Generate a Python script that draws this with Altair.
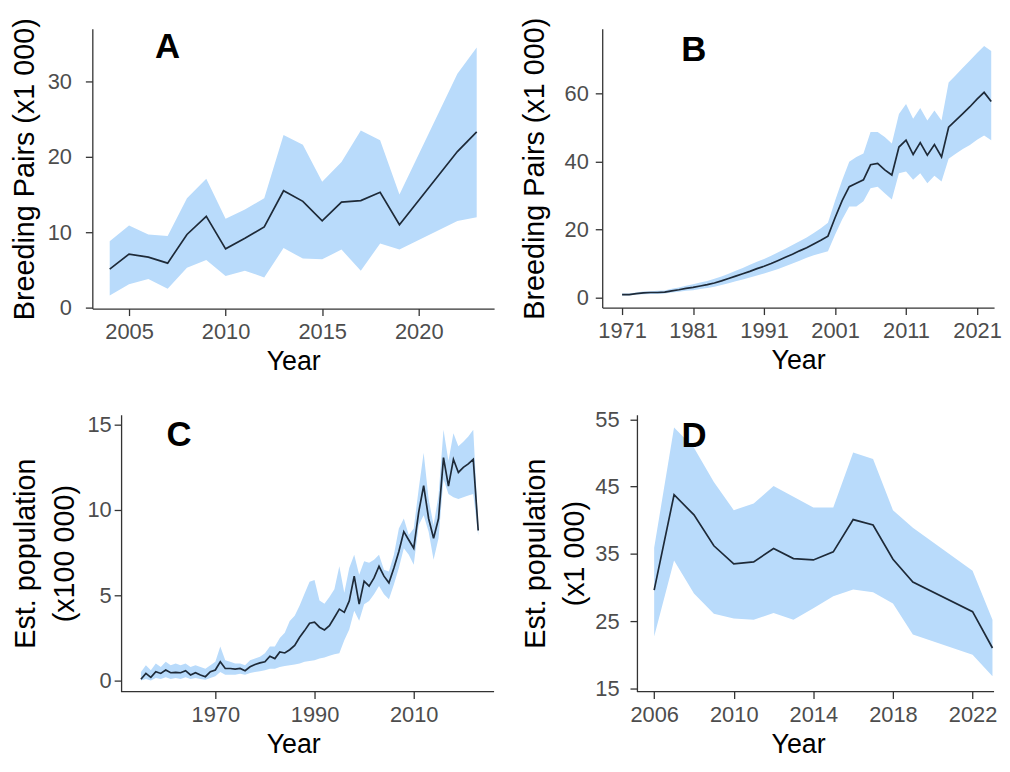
import altair as alt
import pandas as pd

# ---------------- Panel A ----------------
years_a = [2004, 2005, 2006, 2007, 2008, 2009, 2010, 2011, 2012, 2013, 2014,
           2015, 2016, 2017, 2018, 2019, 2022, 2023]
mean_a = [5.1, 7.1, 6.7, 5.9, 9.7, 12.1, 7.8, 9.2, 10.7, 15.5, 14.1,
          11.5, 14.0, 14.2, 15.3, 11.0, 20.7, 23.3]
upper_a = [8.8, 10.9, 9.7, 9.5, 14.5, 17.1, 11.8, 13.0, 14.5, 22.9, 21.6,
           16.7, 19.3, 23.5, 22.2, 15.0, 31.0, 34.5]
lower_a = [1.6, 3.1, 3.8, 2.5, 5.3, 6.3, 4.2, 4.9, 4.0, 7.9, 6.5,
           6.4, 7.7, 4.9, 8.5, 7.7, 11.5, 12.0]

# ---------------- Panel B ----------------
years_b = list(range(1971, 2024))
mean_b = [1.0, 1.0, 1.3, 1.5, 1.6, 1.6, 1.7, 2.1, 2.4, 2.8,
          3.1, 3.5, 3.9, 4.4, 5.0, 5.7, 6.4, 7.1, 7.8, 8.6,
          9.3, 10.1, 11.0, 11.9, 12.8, 13.8, 14.7, 15.8, 16.9, 18.1,
          23.5, 28.5, 32.6, 33.6, 34.6, 39.0, 39.4, 37.5, 36.0, 44.2,
          46.2, 42.0, 45.5, 41.8, 44.9, 41.3, 50.0, 52.0, 54.0, 56.0,
          58.2, 60.2, 57.5]
upper_b = [1.3, 1.3, 1.6, 1.9, 2.0, 2.1, 2.2, 2.7, 3.1, 3.6,
           4.0, 4.5, 5.0, 5.6, 6.3, 7.1, 8.0, 8.8, 9.7, 10.6,
           11.4, 12.4, 13.4, 14.4, 15.5, 16.6, 17.7, 19.0, 20.4, 22.0,
           28.5, 34.5, 39.9, 41.3, 42.3, 48.6, 48.6, 47.1, 45.2, 53.9,
           56.8, 52.5, 55.6, 52.0, 54.9, 52.0, 63.1, 65.2, 67.4, 69.5,
           71.7, 73.8, 72.3]
lower_b = [0.7, 0.7, 1.0, 1.1, 1.2, 1.2, 1.3, 1.6, 1.8, 2.1,
           2.3, 2.6, 2.9, 3.3, 3.8, 4.3, 4.9, 5.4, 6.0, 6.6,
           7.2, 7.8, 8.5, 9.3, 10.1, 10.9, 11.8, 12.5, 13.1, 13.7,
           18.5, 23.0, 26.8, 26.8, 28.3, 32.1, 32.6, 30.7, 28.8, 36.5,
           37.0, 34.6, 36.5, 33.6, 35.8, 34.1, 40.8, 42.2, 43.6, 44.8,
           46.3, 47.6, 46.2]

# ---------------- Panel C ----------------
years_c = list(range(1955, 2024))
mean_c = [0.08, 0.42, 0.19, 0.52, 0.42, 0.62, 0.46, 0.48, 0.46, 0.58,
          0.33, 0.46, 0.33, 0.23, 0.52, 0.62, 1.10, 0.71, 0.71, 0.67,
          0.71, 0.58, 0.81, 0.94, 1.04, 1.10, 1.43, 1.29, 1.68, 1.62,
          1.81, 2.06, 2.54, 2.93, 3.36, 3.42, 3.13, 2.97, 3.22, 3.70,
          4.19, 4.00, 4.67, 6.12, 4.48, 5.83, 5.54, 6.02, 6.70, 6.12,
          5.73, 6.60, 7.57, 8.73, 8.24, 7.76, 9.88, 11.42, 9.50, 8.34,
          9.50, 13.07, 11.40, 12.97, 12.20, 12.50, 12.70, 12.97, 8.80]
upper_c = [0.5, 0.9, 0.6, 1.0, 0.8, 1.1, 0.9, 1.0, 0.9, 1.0,
           0.8, 0.9, 0.8, 0.7, 0.9, 1.1, 2.0, 1.2, 1.1, 1.0,
           1.0, 0.9, 1.2, 1.3, 1.4, 1.6, 2.0, 2.0, 2.5, 2.8,
           3.5, 3.8, 4.4, 5.1, 5.8, 5.9, 4.7, 4.5, 4.9, 5.35,
           6.7, 5.15, 6.6, 7.37, 6.21, 6.99, 6.9, 7.08, 7.37, 6.5,
           6.4, 7.37, 8.92, 9.5, 8.53, 8.92, 11.23, 13.36, 10.65, 9.11,
           10.85, 14.7, 12.87, 14.5, 13.74, 14.0, 14.3, 14.7, 9.1]
lower_c = [0.0, 0.1, 0.0, 0.15, 0.1, 0.2, 0.1, 0.15, 0.1, 0.2,
           0.1, 0.15, 0.1, 0.05, 0.15, 0.25, 0.5, 0.35, 0.35, 0.35,
           0.4, 0.35, 0.45, 0.5, 0.55, 0.6, 0.7, 0.7, 0.8, 0.85,
           0.9, 0.95, 1.0, 1.1, 1.15, 1.2, 1.3, 1.35, 1.45, 1.55,
           1.6, 2.36, 3.0, 4.09, 3.51, 4.48, 4.67, 5.06, 5.54, 5.06,
           4.77, 5.63, 6.6, 7.76, 7.37, 6.79, 9.11, 9.69, 8.73, 7.08,
           8.34, 11.8, 10.94, 10.75, 10.65, 10.75, 10.85, 10.94, 8.5]

# ---------------- Panel D ----------------
years_d = [2006, 2007, 2008, 2009, 2010, 2011, 2012, 2013, 2014, 2015,
           2016, 2017, 2018, 2019, 2022, 2023]
mean_d = [29.6, 43.8, 40.8, 36.2, 33.5, 33.8, 35.8, 34.3, 34.1, 35.3,
          40.1, 39.3, 34.2, 30.8, 26.4, 21.0]
upper_d = [35.9, 53.8, 50.8, 45.7, 41.5, 42.5, 45.1, 43.5, 41.9, 41.9,
           50.1, 49.1, 41.5, 38.9, 32.5, 25.2]
lower_d = [22.7, 34.0, 29.1, 26.1, 25.4, 25.2, 26.2, 25.2, 26.9, 28.7,
           29.7, 29.3, 27.6, 23.0, 20.0, 16.8]

# axis ticks and labels
xticks_a = [2005, 2010, 2015, 2020]
yticks_a = [0, 10, 20, 30]
xticks_b = [1971, 1981, 1991, 2001, 2011, 2021]
yticks_b = [0, 20, 40, 60]
xticks_c = [1970, 1990, 2010]
yticks_c = [0, 5, 10, 15]
xticks_d = [2006, 2010, 2014, 2018, 2022]
yticks_d = [15, 25, 35, 45, 55]

BAND = "#b9dbfb"
LINE = "#1e2a38"
AXC = "#333333"
FONT = "Liberation Sans"


def panel(years, mean, upper, lower, xdom, ydom, xticks, yticks, ytitle,
          letter, lx, ly, w, h, ylabpad, ytitlepad, yoffset=0, xstart=None):
    df = pd.DataFrame({"year": years, "mean": mean, "upper": upper, "lower": lower})
    lab = pd.DataFrame({"year": [lx], "mean": [ly], "t": [letter]})
    xenc = alt.X("year:Q",
                 scale=alt.Scale(domain=xdom, nice=False, zero=False),
                 axis=alt.Axis(values=xticks, format="d", title="Year",
                               domain=xstart is None))
    yax = alt.Axis(values=yticks, format="d", title=ytitle,
                   labelPadding=ylabpad, titlePadding=ytitlepad, offset=yoffset)
    ysc = alt.Scale(domain=ydom, nice=False, zero=False)
    band = alt.Chart(df).mark_area(color=BAND, opacity=1, clip=True).encode(
        x=xenc,
        y=alt.Y("lower:Q", scale=ysc, axis=yax),
        y2="upper:Q")
    line = alt.Chart(df).mark_line(color=LINE, strokeWidth=1.7, clip=True).encode(
        x=xenc,
        y=alt.Y("mean:Q", scale=ysc, axis=yax))
    txt = alt.Chart(lab).mark_text(fontSize=35, fontWeight="bold", font=FONT,
                                   color="black").encode(
        x=xenc,
        y=alt.Y("mean:Q", scale=ysc, axis=yax),
        text="t:N")
    layers = [band, line, txt]
    if xstart is not None:
        # x-axis base line drawn from where the (shifted) y-axis sits
        base = alt.Chart(lab).mark_rule(color=AXC, strokeWidth=1.3).encode(
            x=alt.datum(xstart), x2=alt.datum(xdom[1]),
            y=alt.datum(ydom[0]))
        layers.append(base)
    return alt.layer(*layers).properties(width=w, height=h)


pA = panel(years_a, mean_a, upper_a, lower_a, [2003.1, 2023.9], [-0.13, 36.97],
           xticks_a, yticks_a, "Breeding Pairs (x1 000)", "A", 2007.0, 34.5,
           405, 282, 14, 8)
pB = panel(years_b, mean_b, upper_b, lower_b, [1968.2, 2023.4], [-2.82, 78.8],
           xticks_b, yticks_b, "Breeding Pairs (x1 000)", "B", 1981.1, 72.7,
           395, 281, 7, 15)
# C and D: plot rectangles share their column's left edge; y-axes moved inward
pC = panel(years_c, mean_c, upper_c, lower_c, [1945.2, 2026.2], [-0.64, 15.58],
           xticks_c, yticks_c, ["Est. population", "(x100 000)"], "C", 1962.7, 14.36,
           405, 279, 3, 7, yoffset=-29, xstart=1951.0)
pD = panel(years_d, mean_d, upper_d, lower_d, [2003.39, 2023.08], [14.52, 55.7],
           xticks_d, yticks_d, ["Est. population", "(x1 000)"], "D", 2008.0, 52.5,
           395, 279, 11, 5, yoffset=-35, xstart=2005.14)

chart = alt.concat(pA, pB, pC, pD, columns=2, bounds="flush",
                   spacing={"column": 109, "row": 107}).properties(
    padding={"left": 2, "top": 6, "right": 0, "bottom": 0}
).configure_view(stroke=None).configure_axis(
    grid=False,
    domainColor=AXC,
    domainWidth=1.3,
    tickColor=AXC,
    tickWidth=1.3,
    tickSize=7,
    labelFont=FONT,
    labelFontSize=22,
    labelColor="#4d4d4d",
    labelPadding=6,
    titleFont=FONT,
    titleFontSize=27,
    titleFontWeight="normal",
    titleColor="black",
).configure_axisY(
    titleFontSize=29,
    titleLineHeight=40,
).configure_axisX(
    titlePadding=6,
)

chart.save("out.html", embed_options={"renderer": "svg", "actions": False})
